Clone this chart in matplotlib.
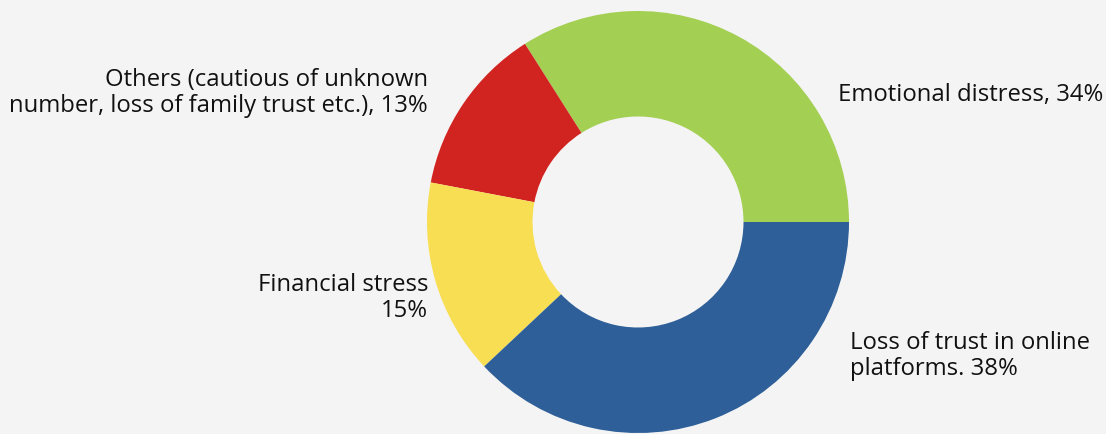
import matplotlib
matplotlib.use("Agg")
import matplotlib.pyplot as plt

# Shares of reported impact, drawn counter-clockwise from 3 o'clock
categories = [
    "Emotional distress",
    "Others (cautious of unknown\nnumber, loss of family trust etc.)",
    "Financial stress",
    "Loss of trust in online\nplatforms",
]
shares = [34, 13, 15, 38]
labels = [
    "Emotional distress, 34%",
    "Others (cautious of unknown\nnumber, loss of family trust etc.), 13%",
    "Financial stress\n15%",
    "Loss of trust in online\nplatforms. 38%",
]
colors = ["#a3cf53", "#d12421", "#f8de52", "#2e5f98"]

plt.rcParams["font.family"] = ["Open Sans", "DejaVu Sans"]
BG = "#f4f4f4"

W, H = 1106, 434
fig = plt.figure(figsize=(W / 100, H / 100), dpi=100, facecolor=BG)

cx, cy, r = 638, 222, 211
ax = fig.add_axes([(cx - r) / W, (H - cy - r) / H, 2 * r / W, 2 * r / H])
ax.set_facecolor(BG)
ax.pie(shares, colors=colors, startangle=0, counterclock=True, radius=1.0,
       wedgeprops=dict(width=0.5, linewidth=0))
ax.set_xlim(-1, 1)
ax.set_ylim(-1, 1)
ax.set_aspect("equal")
ax.axis("off")


def to_data(px, py):
    return (px - cx) / r, (cy - py) / r


# label anchors (pixel positions converted to data units) and alignment
anchors = [(838, 95, "left"), (428, 93, "right"), (428, 298, "right"), (850, 356, "left")]
for text, (px, py, ha) in zip(labels, anchors):
    x, y = to_data(px, py)
    ax.text(x, y, text, ha=ha, va="center", fontsize=17.2, color="#111111",
            linespacing=1.1, clip_on=False)

fig.savefig("out.png", dpi=100, facecolor=BG)
